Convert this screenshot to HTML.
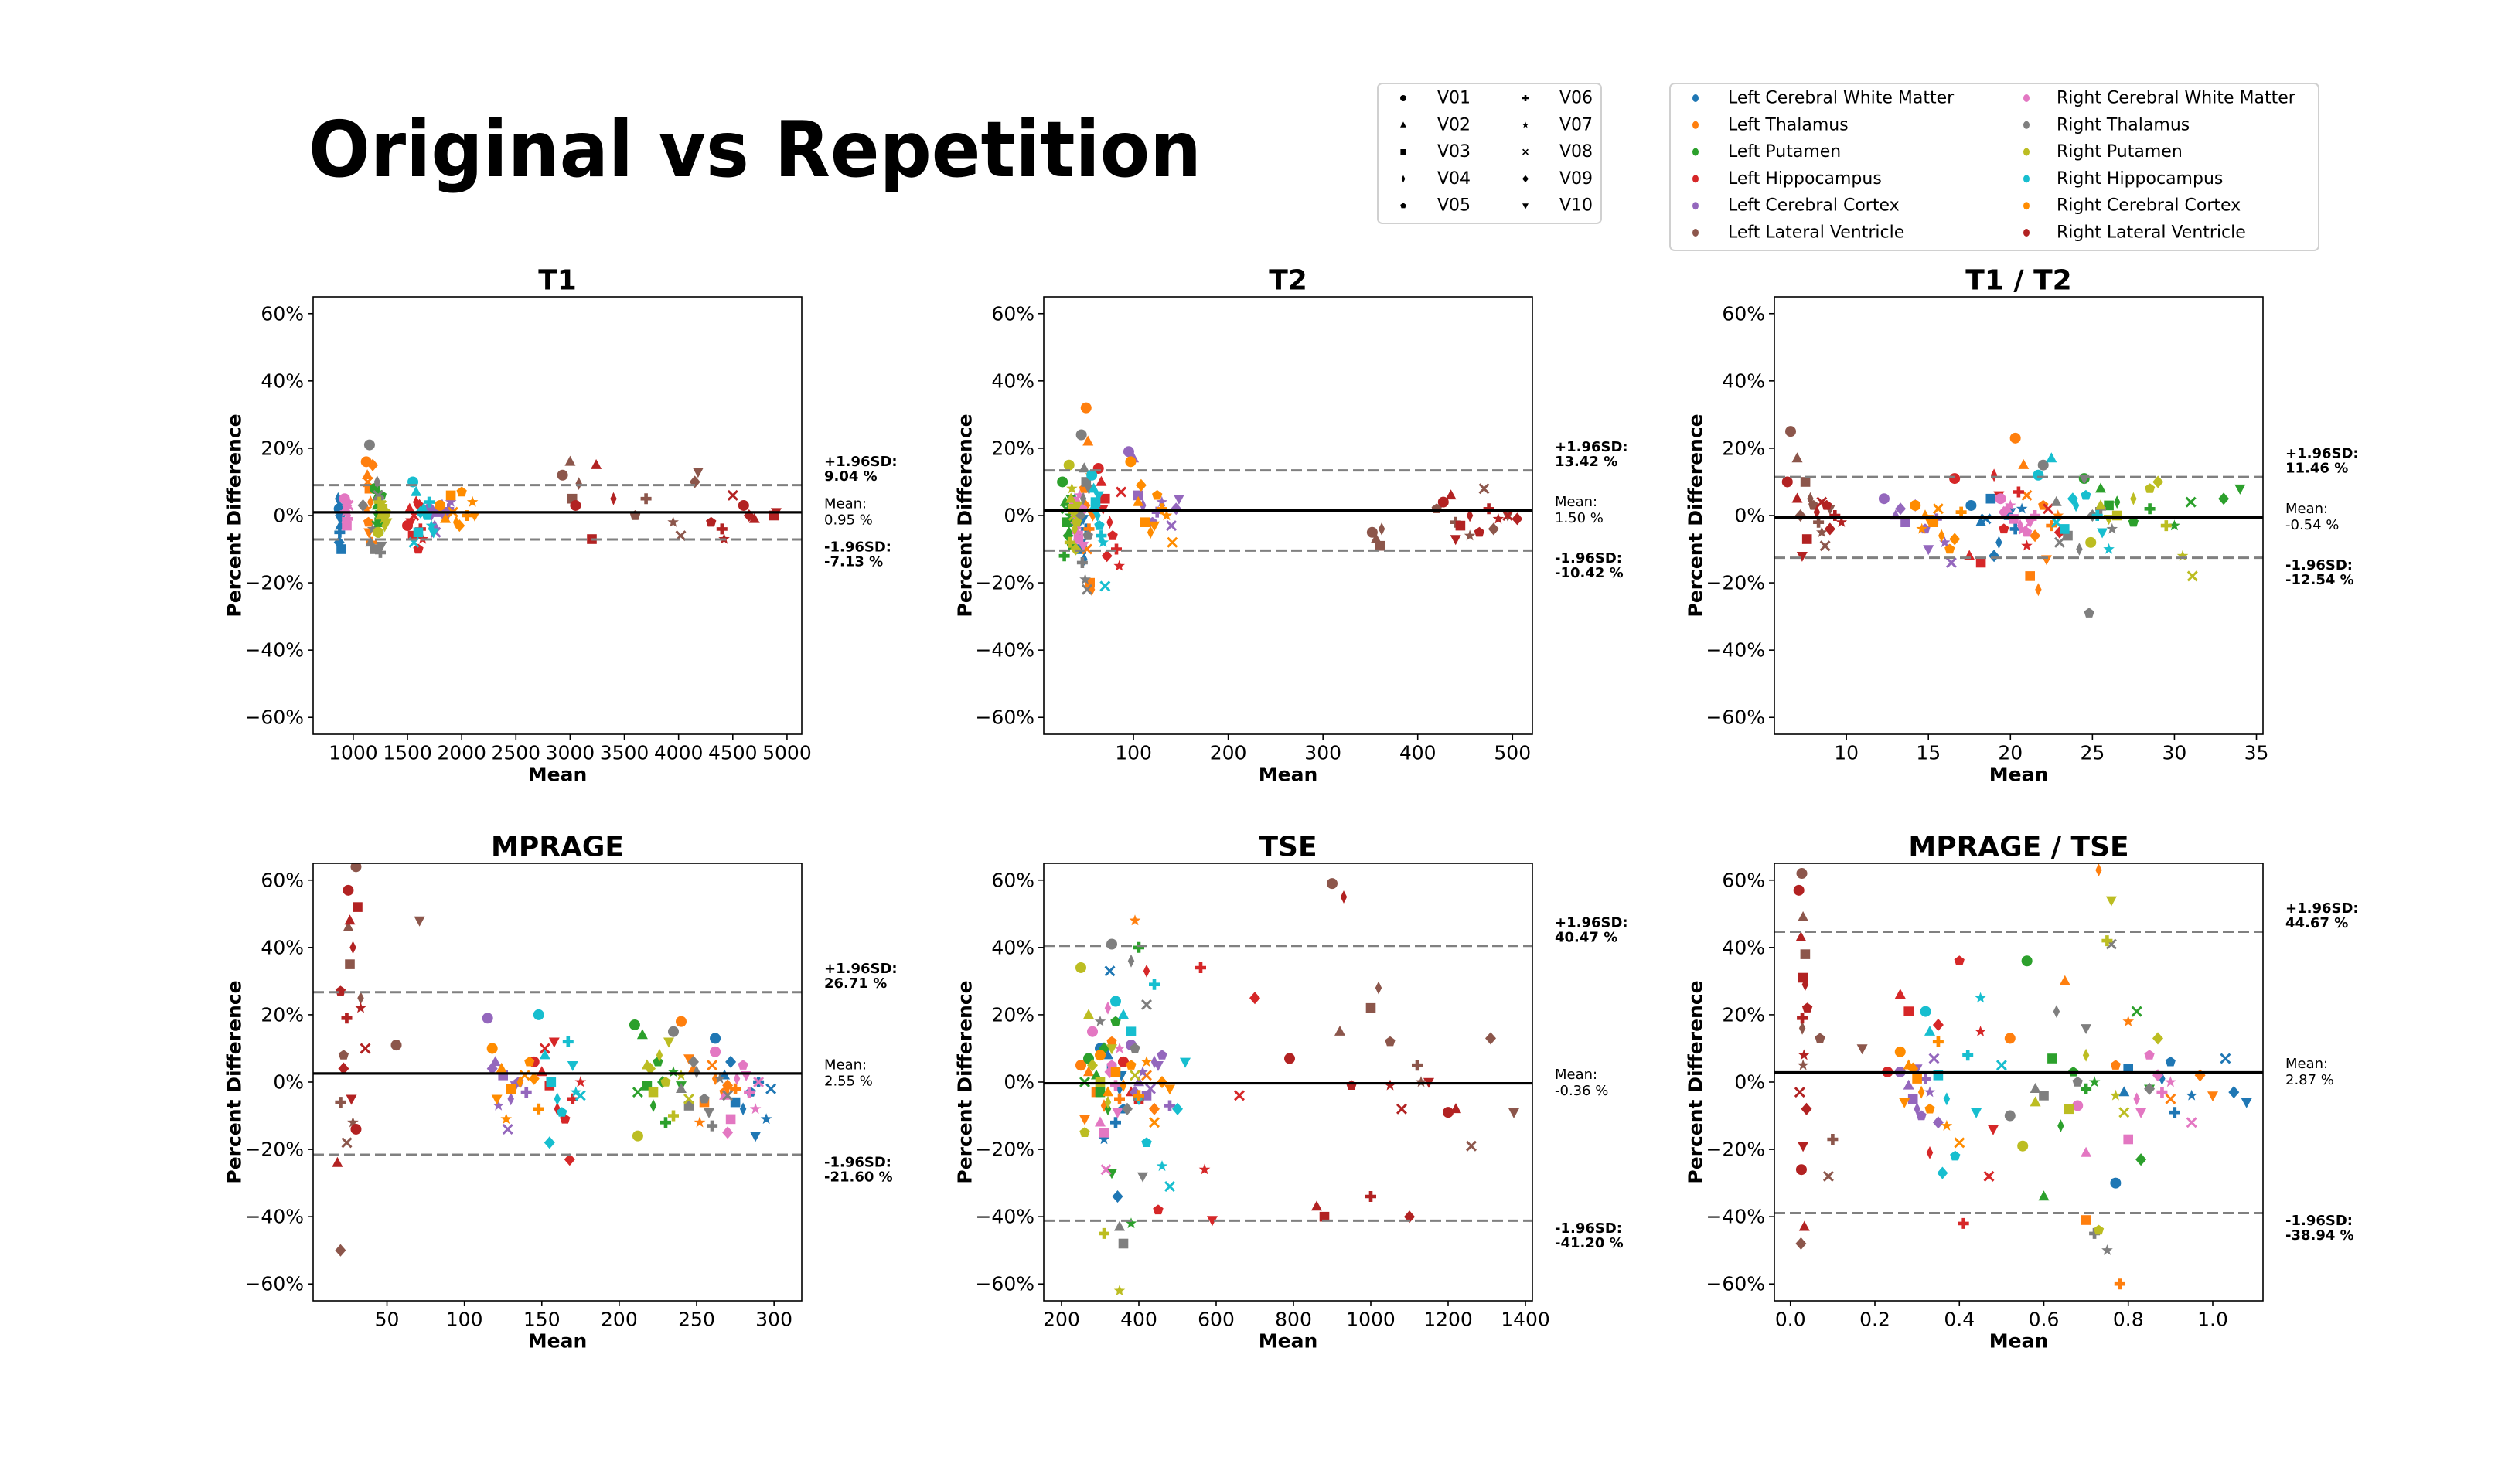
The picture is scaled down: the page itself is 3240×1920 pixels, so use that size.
<!DOCTYPE html>
<html><head><meta charset="utf-8"><title>Original vs Repetition</title>
<style>html,body{margin:0;padding:0;background:#fff}svg{display:block;font-family:"DejaVu Sans","Liberation Sans",sans-serif}</style>
</head><body>
<svg id="fig" xmlns="http://www.w3.org/2000/svg" width="3240" height="1920" viewBox="0 0 3240 1920">
<rect width="3240" height="1920" fill="#fff"/>
<text x="399" y="228" font-size="100" font-weight="bold" textLength="1155" lengthAdjust="spacingAndGlyphs">Original vs Repetition</text>
</svg>
<script>
const regions = ["Left Cerebral White Matter","Left Thalamus","Left Putamen","Left Hippocampus","Left Cerebral Cortex","Left Lateral Ventricle","Right Cerebral White Matter","Right Thalamus","Right Putamen","Right Hippocampus","Right Cerebral Cortex","Right Lateral Ventricle"];
const regionColors = ["#1f77b4","#ff7f0e","#2ca02c","#d62728","#9467bd","#8c564b","#e377c2","#7f7f7f","#bcbd22","#17becf","#ff8c00","#b22222"];
const visits = ["V01","V02","V03","V04","V05","V06","V07","V08","V09","V10"];

const T1_x = [[870,880,890,860,900,875,885,895,870,880],[1120,1130,1150,1160,1140,1170,1125,1135,1180,1145],[1200,1220,1240,1210,1260,1230,1250,1215,1245,1225],[1500,1520,1550,1580,1600,1620,1640,1560,1610,1530],[1700,1750,1780,1820,1850,1880,1900,1760,1840,1720],[2930,3000,3020,3080,3600,3700,3950,4020,4150,4180],[920,930,940,950,935,945,925,955,938,942],[1150,1160,1200,1220,1240,1250,1180,1230,1090,1260],[1230,1250,1270,1290,1300,1240,1280,1260,1295,1310],[1550,1580,1600,1650,1680,1700,1720,1560,1620,1740],[1800,1850,1900,1950,2000,2050,2100,1920,1980,2120],[3050,3240,3200,3400,4300,4400,4420,4500,4650,4900,4600,4700,4880]];
const T1_y = [[2,-3,-10,5,1,-5,0,3,-8,-1],[16,12,8,4,-2,-8,2,10,15,-5],[8,3,-2,5,6,-5,1,-3,3,0],[-3,2,-6,4,-10,-4,-7,0,3,-2],[2,-3,1,3,0,2,4,-5,1,0],[12,16,5,9.5,0,5,-2,-6,10,13],[5,2,-3,0,4,-1,1,3,-2,2],[21,-8,-10,10,5,-11,-4,6,3,-9],[-5,0,2,-3,1,4,-1,3,0,-2],[10,7,-5,2,0,4,-3,-8,1,-5],[3,-1,6,-2,7,0,4,1,-3,0],[3,15,-7,5,-2,-4,-7,6,0,1,3,-1,0]];

const T2_x = [[40,42,45,48,44,50,38,46,43,47],[50,52,54,56,48,53,55,51,49,57],[25,28,30,32,35,27,33,29,31,34],[63,66,70,75,78,82,85,87,72,68],[95,100,105,110,120,125,130,140,145,148],[352,356,360,362,420,440,455,470,480,495],[38,40,42,44,46,41,43,39,45,47],[45,48,50,47,52,46,49,51,44,53],[32,34,36,38,40,33,35,37,39,41],[56,58,60,62,64,66,68,70,59,63],[97,105,112,118,125,130,135,141,108,122],[427,435,445,455,465,475,485,495,505,440]];
const T2_y = [[-2,-6,-10,-13,2,-4,5,-8,0,-1],[32,22,-20,-22,8,-4,12,-10,3,0],[10,4,-2,-5,-9,-12,0,2,-6,5],[14,10,5,-2,-6,-10,-15,7,-12,2],[19,17,6,3,-2,1,4,-3,2,5],[-5,-7,-9,-4,2,-2,-6,8,-4,0],[4,-3,-7,0,2,-5,6,-1,1,-9],[24,14,10,5,-6,-14,-19,-22,0,8],[15,5,2,-4,-2,-8,8,0,-10,3],[12,8,4,0,-3,-6,-8,-21,2,6],[16,4,-2,-5,6,2,0,-8,9,-3],[4,6,-3,0,-5,2,-1,0,-1,-7]];

const T1T2_x = [[17.6,18.2,18.8,19.3,19.8,20.3,20.7,18.5,19.0,20.0],[20.3,20.8,21.2,21.7,22.0,22.5,22.9,21.0,21.5,22.2],[24.5,25.5,26.0,26.5,27.5,28.5,30.0,31.0,33.0,34.0],[16.6,17.5,18.2,19.0,19.6,20.5,21.0,22.3,23.0,19.3],[12.3,13.0,13.6,14.2,14.8,15.5,16.0,16.4,13.3,15.0],[6.6,7.0,7.5,7.8,8.0,8.3,8.5,8.7,7.2,9.0],[19.4,19.8,20.2,20.6,21.0,21.5,20.0,20.8,19.6,21.2],[22,22.8,23.5,24.2,24.8,25.5,26.2,23.0,25.0,24.5],[24.9,25.5,26.5,27.5,28.5,29.5,30.5,31.1,29.0,26.0],[21.7,22.5,23.3,24.0,24.6,25.3,26.0,22.8,23.8,25.6],[14.2,14.8,15.3,15.8,16.3,17.0,14.6,15.6,16.6,15.0],[6.4,7.0,7.6,8.2,8.8,9.3,9.7,8.5,9.0,7.3]];
const T1T2_y = [[3,-2,5,-8,0,-4,2,-1,-12,1],[23,15,-18,-22,3,-3,0,6,-6,-13],[11,8,3,4,-2,2,-3,4,5,8],[11,-12,-14,12,-4,7,-9,2,-5,6],[5,0,-2,3,-4,-1,-8,-14,2,-10],[25,17,10,5,3,-2,-5,-9,0,2],[5,2,-1,-3,-5,0,3,-4,1,-2],[15,4,-6,-10,-29,2,-4,-8,0,11],[-8,3,0,5,8,-3,-12,-18,10,-1],[12,17,-4,3,6,0,-10,-2,5,-5],[3,0,-2,-6,-10,1,-4,2,-7,-1],[10,5,-7,1,3,0,-2,4,-4,-12]];

const MP_x = [[262,268,275,280,285,290,295,298,272,288],[240,248,255,262,268,275,252,260,270,245],[210,215,218,222,225,230,235,212,228,240],[145,150,155,160,165,170,175,152,168,158],[115,120,125,130,135,140,122,128,118,133],[30,25,26,33,22,20,28,24,20,71,56],[262,268,272,276,280,284,288,290,270,282],[235,240,245,250,255,260,265,270,248,258],[212,218,222,226,230,235,240,245,220,232],[148,152,156,160,163,167,172,175,155,170],[118,124,130,136,142,148,127,139,145,121],[25,26,31,28,20,24,33,36,22,27,30,18]];
const MP_y = [[13,2,-6,-8,-3,0,-11,-2,6,-16],[18,4,-6,1,-3,-2,-12,5,-1,7],[17,14,-1,-7,6,-12,3,-3,0,-1],[6,3,-1,-8,-11,-5,0,10,-23,12],[19,6,2,-5,0,-3,-7,-14,4,-1],[64,46,35,25,8,-6,-12,-18,-50,48,11],[9,-4,-11,1,5,-3,-8,0,-15,2],[15,-2,-7,3,-5,-13,1,-4,6,-9],[-16,5,-3,8,0,-10,2,-5,4,12],[20,8,0,-5,-9,12,-3,-4,-18,5],[10,4,-2,0,6,-8,-11,2,1,-5],[57,48,52,40,27,19,22,10,4,-5,-14,-24]];

const TSE_x = [[300,320,330,350,360,340,310,325,345,355],[250,270,290,310,330,350,390,420,440,260],[270,290,300,320,340,400,380,260,310,330],[360,380,400,420,450,560,570,660,700,590],[380,400,420,440,460,480,410,430,390,450],[900,920,1000,1020,1050,1120,1130,1260,1310,1370],[280,300,310,320,330,340,350,315,325,345],[330,350,360,380,390,400,300,420,370,410],[250,270,300,320,260,310,350,390,280,330],[340,360,380,400,420,440,460,480,500,520],[300,320,340,360,380,400,420,440,460,480],[790,860,880,930,950,1000,1050,1080,1100,1150,1200,1220]];
const TSE_y = [[10,8,4,-2,-8,-12,-17,33,-34,2],[5,3,-3,-7,12,-5,48,2,-8,-11],[7,2,-3,-8,18,40,-42,0,10,-27],[6,-3,-5,33,-38,34,-26,-4,25,-41],[11,0,-4,6,8,-7,3,-2,-3,5],[59,15,22,28,12,5,0,-19,13,-9],[15,-12,-15,22,5,-1,10,-26,3,-9],[41,-43,-48,36,10,-5,18,23,-8,-28],[34,20,0,-6,-15,-45,-62,2,5,10],[24,20,15,-5,-18,29,-25,-31,-8,6],[8,-3,3,-1,5,-4,6,-12,0,-2],[7,-37,-40,55,-1,-34,-1,-8,-40,0,-9,-8]];

const MT_x = [[0.77,0.79,0.80,0.88,0.90,0.91,0.95,1.03,1.05,1.08],[0.52,0.65,0.70,0.73,0.77,0.78,0.80,0.90,0.97,1.0],[0.56,0.6,0.62,0.64,0.67,0.7,0.72,0.82,0.83,0.85],[0.23,0.26,0.28,0.33,0.40,0.41,0.45,0.47,0.35,0.48],[0.26,0.28,0.29,0.30,0.31,0.32,0.33,0.34,0.35,0.30],[0.027,0.030,0.035,0.028,0.07,0.10,0.03,0.09,0.025,0.17],[0.68,0.70,0.80,0.82,0.85,0.88,0.90,0.95,0.87,0.83],[0.52,0.58,0.60,0.63,0.68,0.72,0.75,0.76,0.85,0.70],[0.55,0.58,0.66,0.70,0.73,0.75,0.77,0.79,0.87,0.76],[0.32,0.33,0.35,0.37,0.39,0.42,0.45,0.50,0.36,0.44],[0.26,0.28,0.30,0.31,0.33,0.35,0.37,0.40,0.29,0.27],[0.02,0.025,0.03,0.035,0.04,0.028,0.032,0.022,0.038,0.03,0.026,0.033]];
const MT_y = [[-30,-3,4,1,6,-9,-4,7,-3,-6],[13,30,-41,63,5,-60,18,-5,2,-4],[36,-34,7,-13,3,-2,0,21,-23,-2],[3,26,21,-21,36,-42,15,-28,17,-14],[3,-1,-5,-8,-10,1,-3,7,-12,4],[62,49,38,16,13,-17,5,-28,-48,10],[-7,-21,-17,-5,8,-3,0,-12,2,-9],[-10,-2,-4,21,0,-45,-50,41,-2,16],[-19,-6,-8,8,-44,42,-4,-9,13,54],[21,15,2,-5,-22,8,25,5,-27,-9],[9,5,1,-3,-8,12,-13,-18,4,-6],[57,43,31,29,22,19,8,-3,-8,-19,-26,-43]];

const statsUpper = [9.04,13.42,11.46,26.71,40.47,44.67];
const statsMean = [0.95,1.50,-0.54,2.55,-0.36,2.87];
const statsLower = [-7.13,-10.42,-12.54,-21.60,-41.20,-38.94];
const panelTitles = ["T1","T2","T1 / T2","MPRAGE","TSE","MPRAGE / TSE"];
const xTicksT1 = [1000,1500,2000,2500,3000,3500,4000,4500,5000];
const xTicksT2 = [100,200,300,400,500];
const xTicksT1T2 = [10,15,20,25,30,35];
const xTicksMP = [50,100,150,200,250,300];
const xTicksTSE = [200,400,600,800,1000,1200,1400];
const xTicksMT = ["0.0","0.2","0.4","0.6","0.8","1.0"];
const yTicks = [60,40,20,0,-20,-40,-60];

const NS = "http://www.w3.org/2000/svg";
const svg = document.getElementById('fig');
function el(tag, attrs, parent){const e=document.createElementNS(NS,tag);for(const k in attrs)e.setAttribute(k,attrs[k]);(parent||svg).appendChild(e);return e;}

function markerPath(v, cx, cy, r){
  let pts=[];
  const poly=(arr)=>'M'+arr.map(p=>(cx+p[0]*r).toFixed(1)+','+(cy+p[1]*r).toFixed(1)).join('L')+'Z';
  switch(v%10){
    case 0: return `M${cx-r},${cy}a${r},${r} 0 1,0 ${2*r},0a${r},${r} 0 1,0 ${-2*r},0Z`;
    case 1: return poly([[0,-1.1],[1,0.75],[-1,0.75]]);
    case 2: return poly([[-0.9,-0.9],[0.9,-0.9],[0.9,0.9],[-0.9,0.9]]);
    case 3: return poly([[0,-1.2],[0.6,0],[0,1.2],[-0.6,0]]);
    case 4: for(let i=0;i<5;i++){const a=-Math.PI/2+i*2*Math.PI/5;pts.push([Math.cos(a),Math.sin(a)]);}return poly(pts);
    case 5: return poly([[-0.33,-1],[0.33,-1],[0.33,-0.33],[1,-0.33],[1,0.33],[0.33,0.33],[0.33,1],[-0.33,1],[-0.33,0.33],[-1,0.33],[-1,-0.33],[-0.33,-0.33]]);
    case 6: for(let i=0;i<10;i++){const a=-Math.PI/2+i*Math.PI/5;const rr=i%2?0.45:1.1;pts.push([rr*Math.cos(a),rr*Math.sin(a)]);}return poly(pts);
    case 7: return poly([[-0.7,-1],[0,-0.3],[0.7,-1],[1,-0.7],[0.3,0],[1,0.7],[0.7,1],[0,0.3],[-0.7,1],[-1,0.7],[-0.3,0],[-1,-0.7]]);
    case 8: return poly([[0,-1.15],[1.0,0],[0,1.15],[-1.0,0]]);
    default: return poly([[-1,-0.75],[1,-0.75],[0,1.1]]);
  }
}

const PW=632, PH=566;
const panels = [
 {left:405,top:384,xmin:630,xmax:5136,ticks:xTicksT1,X:T1_x,Y:T1_y},
 {left:1350,top:384,xmin:5.3,xmax:521,ticks:xTicksT2,X:T2_x,Y:T2_y},
 {left:2295,top:384,xmin:5.61,xmax:35.4,ticks:xTicksT1T2,X:T1T2_x,Y:T1T2_y},
 {left:405,top:1117,xmin:2.3,xmax:317.9,ticks:xTicksMP,X:MP_x,Y:MP_y},
 {left:1350,top:1117,xmin:154,xmax:1418,ticks:xTicksTSE,X:TSE_x,Y:TSE_y},
 {left:2295,top:1117,xmin:-0.038,xmax:1.119,ticks:xTicksMT,X:MT_x,Y:MT_y}
];

panels.forEach((p,pi)=>{
  const g=el('g',{});
  
  
  const sx=v=>p.left+(v-p.xmin)/(p.xmax-p.xmin)*PW;
  const sy=v=>p.top+PH/2-v*(PH/2)/65;
  const cid='clip'+pi;
  const cp=el('clipPath',{id:cid},g);el('rect',{x:p.left,y:p.top,width:PW,height:PH},cp);
  yTicks.forEach(t=>{
    const y=sy(t);
    el('line',{x1:p.left-7,x2:p.left,y1:y,y2:y,stroke:'#000','stroke-width':1.6},g);
    const tx=el('text',{x:p.left-12,y:y,'font-size':25,'text-anchor':'end','dominant-baseline':'central'},g);
    tx.textContent=(t<0?'\u2212'+(-t):t)+'%';
    
    
  });
  p.ticks.forEach(t=>{
    const x=sx(parseFloat(t));
    el('line',{x1:x,x2:x,y1:p.top+PH,y2:p.top+PH+7,stroke:'#000','stroke-width':1.6},g);
    const tx=el('text',{x:x,y:p.top+PH+24,'font-size':25,'text-anchor':'middle','dominant-baseline':'central'},g);
    tx.textContent=String(t);
    
    
  });
  const pg=el('g',{'clip-path':`url(#${cid})`},g);
  p.X.forEach((xs,ri)=>{
    xs.forEach((xv,k)=>{
      const m=el('path',{d:markerPath(k,sx(xv),sy(p.Y[ri][k]),7),fill:regionColors[ri]},pg);
      
      
    });
  });
  const lu=el('line',{x1:p.left,x2:p.left+PW,y1:sy(statsUpper[pi]),y2:sy(statsUpper[pi]),stroke:'#808080','stroke-width':3,'stroke-dasharray':'14 6'},g);
  
  
  const ll=el('line',{x1:p.left,x2:p.left+PW,y1:sy(statsLower[pi]),y2:sy(statsLower[pi]),stroke:'#808080','stroke-width':3,'stroke-dasharray':'14 6'},g);
  
  
  const lm=el('line',{x1:p.left,x2:p.left+PW,y1:sy(statsMean[pi]),y2:sy(statsMean[pi]),stroke:'#000','stroke-width':3.2},g);
  
  
  el('rect',{x:p.left,y:p.top,width:PW,height:PH,fill:'none',stroke:'#000','stroke-width':1.6},g);
  const ti=el('text',{x:p.left+PW/2,y:p.top-21,'font-size':36,'font-weight':'bold','text-anchor':'middle','dominant-baseline':'central'},g);
  ti.textContent=panelTitles[pi];
  
  
  const xl=el('text',{x:p.left+PW/2,y:p.top+PH+52,'font-size':25,'font-weight':'bold','text-anchor':'middle','dominant-baseline':'central'},g);
  xl.textContent='Mean';
  
  
  const yx=p.left-102, yy=p.top+PH/2;
  const yl=el('text',{x:yx,y:yy,'font-size':25,'font-weight':'bold','text-anchor':'middle','dominant-baseline':'central',transform:`rotate(-90 ${yx} ${yy})`},g);
  yl.textContent='Percent Difference';
  
  
  const ax=p.left+PW+29;
  const ann=(txt,y,bold,name)=>{const t=el('text',{x:ax,y:y,'font-size':18,'font-weight':bold?'bold':'normal','dominant-baseline':'central'},g);t.textContent=txt;
    
    };
  const yu=sy(statsUpper[pi]), ym=sy(statsMean[pi]), yd=sy(statsLower[pi]);
  ann('+1.96SD:',yu-30,true,'upper-limit-label');ann(statsUpper[pi].toFixed(2)+' %',yu-11,true,'upper-limit-value');
  ann('Mean:',ym-11,false,'mean-label');ann(statsMean[pi].toFixed(2)+' %',ym+10,false,'mean-value');
  ann('-1.96SD:',yd+10,true,'lower-limit-label');ann(statsLower[pi].toFixed(2)+' %',yd+29,true,'lower-limit-value');
});

const lg1=el('g',{});


el('rect',{x:1782,y:108,width:289,height:181,rx:6,fill:'#fff',stroke:'#d0d0d0','stroke-width':2},lg1);
visits.forEach((v,i)=>{
  const col=Math.floor(i/5), row=i%5;
  const y=127+row*34.8;
  const m=el('path',{d:markerPath(i,col?1973:1815,y,4),fill:'#000'},lg1);
  
  
  const t=el('text',{x:col?2017:1859,y:y,'font-size':22,'dominant-baseline':'central'},lg1);
  t.textContent=v;
  
  
});
const lg2=el('g',{});


el('rect',{x:2160,y:108,width:839,height:216,rx:6,fill:'#fff',stroke:'#d0d0d0','stroke-width':2},lg2);
regions.forEach((r,i)=>{
  const col=Math.floor(i/6), row=i%6;
  const y=127+row*34.8;
  const m=el('ellipse',{cx:col?2621:2193,cy:y,rx:4,ry:5,fill:regionColors[i]},lg2);
  
  
  const t=el('text',{x:col?2660:2235,y:y,'font-size':22,'dominant-baseline':'central'},lg2);
  t.textContent=r;
  
  
});
</script>
</body></html>
